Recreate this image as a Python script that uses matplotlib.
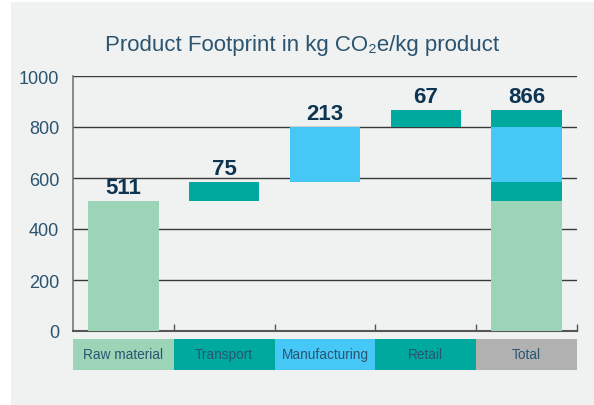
import matplotlib.pyplot as plt
import numpy as np
from matplotlib.patches import Rectangle
import matplotlib.transforms as mtransforms

plt.rcParams['font.family'] = ['Liberation Sans', 'DejaVu Sans']

# data
steps = ['Raw material', 'Transport', 'Manufacturing', 'Retail']
step_values = [511, 75, 213, 67]
step_colors = ['#9cd4b8', '#00a99d', '#45c8f6', '#00a99d']
total_label = 'Total'
total_color = '#b1b1b1'
yticks = [0, 200, 400, 600, 800, 1000]

text_col = '#2a5470'
value_col = '#0d3450'

fig = plt.figure(figsize=(5.94, 4.06), dpi=100)
fig.patch.set_facecolor('white')
# grey panel behind everything
fig.patches.append(Rectangle((11 / 594, 0), 1, 403 / 406, transform=fig.transFigure,
                             facecolor='#f0f1f1', edgecolor='none', zorder=-10))

ax = fig.add_axes([73 / 594, 74 / 406, 504 / 594, 255 / 406])
ax.set_facecolor('none')

bottoms = np.concatenate([[0], np.cumsum(step_values)[:-1]])
total = sum(step_values)
x = np.arange(len(steps))
width = 0.7

# waterfall steps
ax.bar(x, step_values, bottom=bottoms, width=width, color=step_colors, zorder=3)
for xi, b, v in zip(x, bottoms, step_values):
    ax.annotate(str(v), (xi, b + v), xytext=(0, 2), textcoords='offset points',
                ha='center', va='bottom', fontsize=16, fontweight='bold', color=value_col)

# total bar, stacked
xt = len(steps)
ax.bar([xt] * len(step_values), step_values, bottom=bottoms, width=width,
       color=step_colors, zorder=3)
ax.annotate(str(total), (xt, total), xytext=(0, 2), textcoords='offset points',
            ha='center', va='bottom', fontsize=16, fontweight='bold', color=value_col)

ax.set_xlim(-0.5, len(steps) + 0.5)
ax.set_ylim(0, 1000)
ax.set_yticks(yticks)
ax.set_yticklabels([str(t) for t in yticks], fontsize=13, color=text_col)
ax.tick_params(axis='y', length=0, pad=10)
ax.yaxis.grid(True, color='#3a3a3a', linewidth=1, zorder=1)

# bottom axis ticks at category boundaries, pointing up
ax.set_xticks(np.arange(0.5, len(steps) + 1, 1))
ax.set_xticklabels([])
ax.tick_params(axis='x', direction='in', length=5, color='#555555', width=1)

ax.spines['right'].set_visible(False)
ax.spines['top'].set_visible(False)
ax.spines['left'].set_color('#777777')
ax.spines['bottom'].set_color('#555555')
ax.spines['left'].set_linewidth(1.2)
ax.spines['bottom'].set_linewidth(1.5)

# coloured category boxes under the axis
trans = mtransforms.blended_transform_factory(ax.transData, ax.transAxes)
box_labels = steps + [total_label]
box_colors = step_colors + [total_color]
for i, (lab, col) in enumerate(zip(box_labels, box_colors)):
    ax.add_patch(Rectangle((i - 0.5, -0.153), 1, 0.122, transform=trans,
                           facecolor=col, edgecolor='none', clip_on=False))
    ax.text(i, -0.092, lab, transform=trans, ha='center', va='center',
            fontsize=9.8, color=text_col)

fig.text(0.508, 0.889, 'Product Footprint in kg CO\u2082e/kg product', ha='center',
         va='center', fontsize=16, color=text_col)

fig.savefig('out.png', dpi=100)
